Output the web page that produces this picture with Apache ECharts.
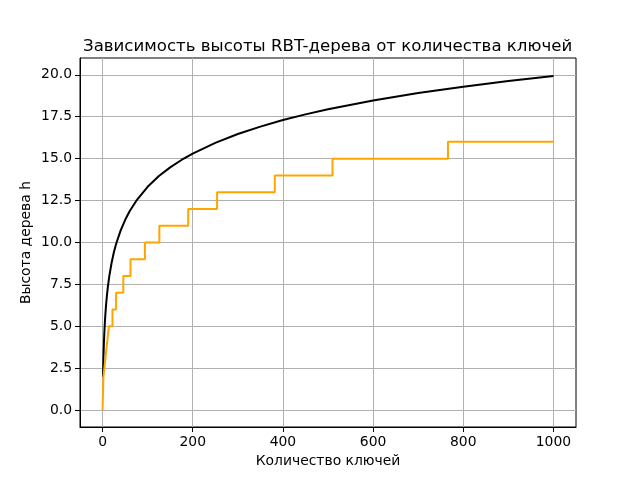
<!DOCTYPE html>
<html><head><meta charset="utf-8">
<script src="https://cdn.jsdelivr.net/npm/echarts@6/dist/echarts.min.js"></script>
<style>html,body{margin:0;padding:0;background:#fff}#c{width:640px;height:480px}</style>
</head><body><div id="c"></div>
<script>
// Upper bound curve
var boundKeys = [1, 2, 3, 4, 5, 6, 8, 10, 12, 15, 20, 25, 30, 40, 50, 60, 75, 100, 125, 150, 175, 200, 250, 300, 350, 400, 450, 500, 600, 700, 800, 900, 1000];
var boundHeights = [2.0, 3.17, 4.0, 4.64, 5.17, 5.61, 6.34, 6.92, 7.40, 8.0, 8.78, 9.40, 9.91, 10.71, 11.34, 11.86, 12.49, 13.32, 13.96, 14.48, 14.92, 15.30, 15.94, 16.47, 16.91, 17.30, 17.64, 17.94, 18.46, 18.91, 19.29, 19.63, 19.93];
var stepKeys = [0, 1, 2, 6, 10, 14, 22, 30, 46, 62, 94, 126, 190, 254, 382, 510, 766, 1000];
var stepHeights = [0, 1, 2, 3, 4, 5, 6, 7, 8, 9, 10, 11, 12, 13, 14, 15, 16, 16];
var xTicks = [0, 200, 400, 600, 800, 1000];
var yTicks = [0, 2.5, 5, 7.5, 10, 12.5, 15, 17.5, 20];

function zip(a, b) { return a.map(function (v, i) { return [v, b[i]]; }); }

var chart = echarts.init(document.getElementById('c'), null, { renderer: 'canvas' });
var font = 'DejaVu Sans';
chart.setOption({
  animation: false,
  backgroundColor: '#fff',
  title: {
    text: 'Зависимость высоты RBT-дерева от количества ключей',
    left: 78, top: 33,
    textStyle: { fontFamily: font, fontSize: 16.6, fontWeight: 'normal', color: '#000' }
  },
  grid: { left: 80, right: 64, top: 58, bottom: 53, show: true, borderColor: '#000', borderWidth: 1, backgroundColor: 'transparent' },
  xAxis: {
    type: 'value', min: -50, max: 1050,
    name: 'Количество ключей', nameLocation: 'middle', nameGap: 27, nameMoveOverlap: false,
    nameTextStyle: { fontFamily: font, fontSize: 13.9, color: '#000' },
    axisLine: { show: true, onZero: false, lineStyle: { color: '#000', width: 1 } },
    axisTick: { show: true, inside: false, length: 5, customValues: xTicks, lineStyle: { color: '#000' } },
    axisLabel: { customValues: xTicks, margin: 8, fontFamily: font, fontSize: 13.9, color: '#000',
      formatter: function (v) { return String(v); } },
    splitLine: { show: true, lineStyle: { color: '#b0b0b0', width: 1 } }
  },
  yAxis: {
    type: 'value', min: -1, max: 21,
    name: 'Высота дерева h', nameLocation: 'middle', nameGap: 47, nameRotate: 90, nameMoveOverlap: false,
    nameTextStyle: { fontFamily: font, fontSize: 13.9, color: '#000' },
    axisLine: { show: true, onZero: false, lineStyle: { color: '#000', width: 1 } },
    axisTick: { show: true, inside: false, length: 5, customValues: yTicks, lineStyle: { color: '#000' } },
    axisLabel: { customValues: yTicks, margin: 8, fontFamily: font, fontSize: 13.9, color: '#000',
      formatter: function (v) { return Number(v).toFixed(1); } },
    splitLine: { show: true, lineStyle: { color: '#b0b0b0', width: 1 } }
  },
  series: [
    { type: 'line', data: zip(boundKeys, boundHeights), smooth: false, showSymbol: false,
      lineStyle: { color: '#000', width: 2 }, z: 3 },
    { type: 'line', data: zip(stepKeys, stepHeights), step: 'end', showSymbol: false,
      lineStyle: { color: '#ffa500', width: 2 }, z: 4 }
  ]
});
</script></body></html>
